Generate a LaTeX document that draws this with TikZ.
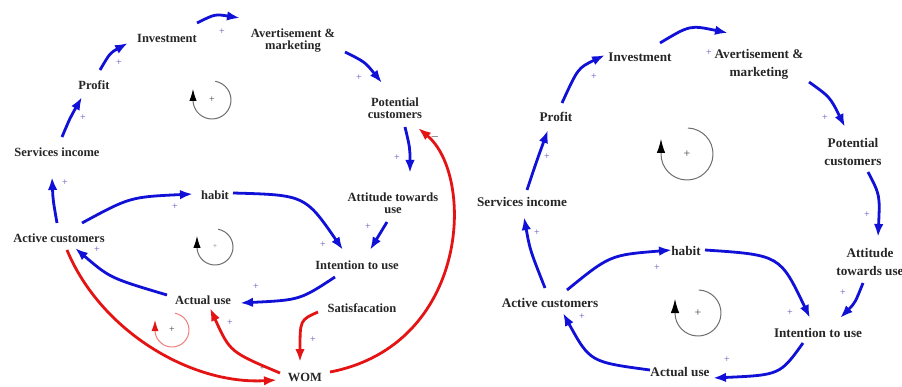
\documentclass[tikz,border=0pt]{standalone}
\usepackage{fontspec}
\setmainfont{Liberation Serif}
\usetikzlibrary{arrows.meta,calc}
\definecolor{cdblue}{RGB}{16,16,215}
\definecolor{cdred}{RGB}{228,20,20}
\definecolor{cdplus}{RGB}{95,85,190}
\definecolor{cdgray}{RGB}{110,110,110}
\begin{document}
\begin{tikzpicture}[x=1pt,y=-1pt,
  lbl/.style={font=\fontsize{12.5}{13}\selectfont\bfseries, align=center, inner sep=1pt, text=black!85},
  lblR/.style={font=\fontsize{13.2}{20}\selectfont\bfseries, align=center, inner sep=1pt, text=black!85},
  bl/.style={draw=cdblue, line width=2.8pt, -{Latex[length=13pt,width=9.5pt]}},
  rd/.style={draw=cdred, line width=2.8pt, -{Latex[length=13pt,width=9.5pt]}},
  pl/.style={font=\fontsize{10}{10}\selectfont, text=cdplus, inner sep=0pt},
  loopc/.style={draw=cdgray, line width=1pt, -{Latex[length=12pt,width=7.5pt,color=black]}},
  loopk/.style={font=\fontsize{10}{10}\selectfont, text=black!75, inner sep=0pt}]
\useasboundingbox (0,0) rectangle (902,387);
\fill[white] (0,0) rectangle (902,387);

% ---------------- left diagram ----------------
\node[lbl] (invL) at (167,38) {Investment};
\node[lbl] (advL) at (293,41) {Avertisement \&\\[-1pt]marketing};
\node[lbl] (profL) at (94,85) {Profit};
\node[lbl] (potL) at (395,108) {Potential\\[-1pt]customers};
\node[lbl] (svcL) at (57,152) {Services income};
\node[lbl] (attL) at (393,203) {Attitude towards\\[-1pt]use};
\node[lbl] (habL) at (215,195) {habit};
\node[lbl] (actL) at (59,238) {Active customers};
\node[lbl] (intL) at (357,265) {Intention to use};
\node[lbl] (useL) at (203,300) {Actual use};
\node[lbl] (satL) at (362,308) {Satisfacation};
\node[lbl] (womL) at (305,377) {WOM};

\draw[bl] ($(svcL)+(5,-15)$) .. controls (70,118) .. ($(profL)+(-12,12)$);
\draw[bl] ($(profL)+(6,-15)$) .. controls (110,53) .. ($(invL)+(-39,5)$);
\draw[bl] ($(invL)+(30,-15)$) .. controls (215,14) .. ($(advL)+(-53,-23)$);
\draw[bl] ($(advL)+(52,11)$) .. controls (365,62) .. ($(potL)+(-13,-25)$);
\draw[bl] ($(potL)+(10,19)$) .. controls (410,148) .. ($(attL)+(17,-30)$);
\draw[bl] ($(actL)+(-2,-15)$) .. controls (53,200) .. ($(svcL)+(-5,25)$);
\draw[bl] ($(actL)+(23,-15)$) .. controls (130,197) .. ($(habL)+(-22,-1)$);
\draw[bl] ($(habL)+(18,-2)$) .. controls (305,195) .. ($(intL)+(-14,-15)$);
\draw[bl] ($(attL)+(-6,19)$) -- ($(intL)+(13,-15)$);
\draw[bl] ($(intL)+(-22,12)$) .. controls (300,300) .. ($(useL)+(37,3)$);
\draw[bl] ($(useL)+(-36,-5)$) .. controls (110,278) .. ($(actL)+(16,10)$);

\draw[rd] ($(actL)+(8,12)$) .. controls (100,330) and (190,385) .. ($(womL)+(-28,3)$);
\draw[rd] ($(womL)+(-25,-4)$) .. controls (230,352) .. ($(useL)+(7,8)$);
\draw[rd] ($(satL)+(-44,4)$) .. controls (300,320) .. ($(womL)+(-5,-15)$);
\draw[rd] ($(womL)+(25,-5)$) .. controls (470,345) and (475,175) .. ($(potL)+(23,20)$);

\node[pl] at (83,118) {+};
\node[pl] at (119,63) {+};
\node[pl] at (222,32) {+};
\node[pl] at (359,78) {+};
\node[pl] at (397,158) {+};
\node[pl] at (65,183) {+};
\node[pl] at (175,207) {+};
\node[pl] at (323,245) {+};
\node[pl] at (368,227) {+};
\node[pl] at (256,287) {+};
\node[pl] at (97,250) {+};
\node[pl] at (230,323) {+};
\node[pl] at (313,340) {+};
\node[loopk, font=\fontsize{7}{7}\selectfont] at (262,369) {+};
\node[font=\fontsize{11}{11}\selectfont, inner sep=0pt] at (435,137) {$-$};

% loops left
\coordinate (l1) at (212,100);
\draw[loopc] ($(l1)+(-80:19)$) arc[start angle=-80, end angle=180, radius=19] -- ++(0,-11);
\node[loopk] at (l1) {+};
\coordinate (l2) at (215,247);
\draw[loopc] ($(l2)+(-80:18)$) arc[start angle=-80, end angle=180, radius=18] -- ++(0,-11);
\node[loopk, text=cdgray, font=\fontsize{7}{7}\selectfont] at (l2) {+};
\coordinate (l3) at (172,330);
\draw[loopc, draw=cdred!55, -{Latex[length=11pt,width=7pt,color=cdred]}] ($(l3)+(-80:17)$) arc[start angle=-80, end angle=180, radius=17] -- ++(0,-10);
\node[loopk] at (l3) {+};

% ---------------- right diagram ----------------
\node[lblR] (invR) at (640,57) {Investment};
\node[lblR] (advR) at (759,64) {Avertisement \&\\[-2pt]marketing};
\node[lblR] (profR) at (556,117) {Profit};
\node[lblR] (potR) at (853,152) {Potential\\[-2pt]customers};
\node[lblR] (svcR) at (522,202) {Services income};
\node[lblR] (attR) at (870,262) {Attitude\\[-2pt]towards use};
\node[lblR] (habR) at (686,251) {habit};
\node[lblR] (actR) at (550,303) {Active customers};
\node[lblR] (intR) at (818,333) {Intention to use};
\node[lblR] (useR) at (680,372) {Actual use};

\draw[bl] ($(svcR)+(5,-12)$) .. controls (537,160) .. ($(profR)+(-8,13)$);
\draw[bl] ($(profR)+(6,-14)$) .. controls (578,68) .. ($(invR)+(-35,-2)$);
\draw[bl] ($(invR)+(20,-14)$) .. controls (690,25) .. ($(advR)+(-31,-31)$);
\draw[bl] ($(advR)+(50,18)$) .. controls (830,97) .. ($(potR)+(-8,-25)$);
\draw[bl] ($(potR)+(15,20)$) .. controls (880,195) .. ($(attR)+(8,-25)$);
\draw[bl] ($(attR)+(-7,21)$) .. controls (855,303) .. ($(intR)+(22,-15)$);
\draw[bl] ($(habR)+(19,-1)$) .. controls (780,255) .. ($(intR)+(-8,-15)$);
\draw[bl] ($(actR)+(17,-13)$) .. controls (610,255) .. ($(habR)+(-14,-1)$);
\draw[bl] ($(actR)+(-5,-15)$) .. controls (530,250) .. ($(svcR)+(2,15)$);
\draw[bl] ($(intR)+(-15,10)$) .. controls (780,375) .. ($(useR)+(33,6)$);
\draw[bl] ($(useR)+(-30,-2)$) .. controls (590,362) .. ($(actR)+(13,10)$);

\node[pl] at (547,157) {+};
\node[pl] at (594,77) {+};
\node[pl] at (709,53) {+};
\node[pl] at (825,118) {+};
\node[pl] at (867,215) {+};
\node[pl] at (843,293) {+};
\node[pl] at (790,313) {+};
\node[pl] at (657,268) {+};
\node[pl] at (537,233) {+};
\node[pl] at (727,360) {+};
\node[pl] at (582,317) {+};

% loops right
\coordinate (r1) at (687,154);
\draw[loopc, -{Latex[length=14pt,width=8.5pt,color=black]}] ($(r1)+(-88:26)$) arc[start angle=-88, end angle=180, radius=26] -- ++(0,-15);
\node[loopk, font=\fontsize{12}{12}\selectfont] at (r1) {+};
\coordinate (r2) at (698,313);
\draw[loopc, -{Latex[length=14pt,width=8.5pt,color=black]}] ($(r2)+(-88:23)$) arc[start angle=-88, end angle=180, radius=23] -- ++(0,-14);
\node[loopk, font=\fontsize{12}{12}\selectfont] at (r2) {+};
\end{tikzpicture}
\end{document}
